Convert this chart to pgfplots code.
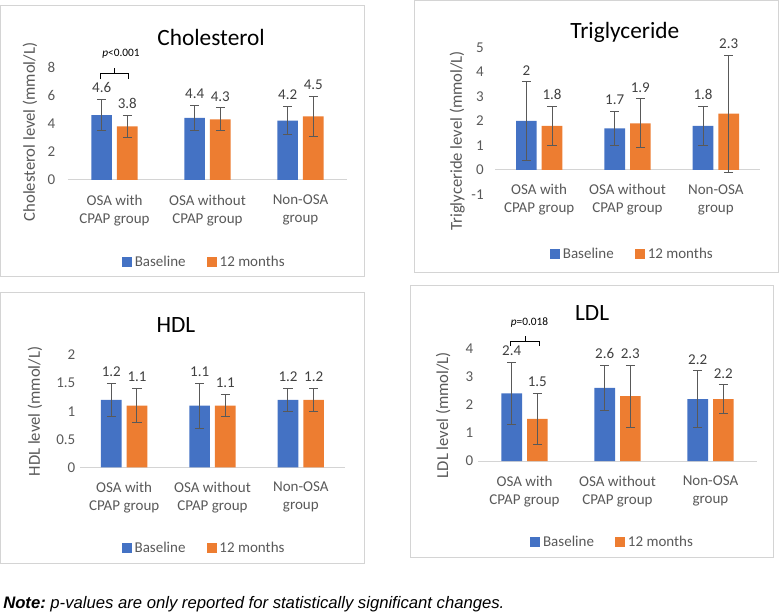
\documentclass[border=0pt]{standalone}
\usepackage{fontspec}
\setmainfont{Carlito}
\newfontfamily\arial{Liberation Sans}
\usepackage{pgfplots}
\pgfplotsset{compat=1.18}
\definecolor{cblue}{HTML}{4472C4}
\definecolor{corange}{HTML}{ED7D31}
\definecolor{tgray}{HTML}{595959}
\definecolor{lgray}{HTML}{D4D4D4}
\definecolor{dlab}{HTML}{404040}
\newcommand{\fnt}{\fontsize{11.25}{13.5}\selectfont}
\pgfplotsset{
  panel/.style={
    scale only axis, anchor=south west,
    ybar=3.75pt, bar width=15.5pt,
    xmin=-0.5, xmax=2.5, xtick={0,1,2},
    xticklabels={{OSA with\\CPAP group},{OSA without\\CPAP group},{Non-OSA\\group}},
    x tick label style={align=center, font=\fnt, text=tgray, yshift=-7.5pt},
    y tick label style={font=\fnt, text=tgray},
    axis y line=left, axis x line=middle,
    y axis line style={draw=none},
    x axis line style={draw=lgray, line width=0.75pt, -},
    every inner x axis line/.append style={-},
    major tick length=0pt,
    /pgf/number format/assume math mode=true,
    clip=false,
    legend columns=2,
    legend style={draw=none, fill=none, font=\fnt, text=tgray, anchor=center,
      /tikz/every even column/.append style={column sep=14pt}},
    legend image code/.code={\fill[##1] (0pt,-3.6pt) rectangle (7.5pt,3.6pt);},
    nodes near coords,
    every node near coord/.append style={font=\fnt, text=dlab, shift={(axis direction cs:0,\myerr)}, yshift=1.5pt},
    visualization depends on={\thisrow{e} \as \myerr},
  },
  bbar/.style={fill=cblue, draw=none,
    error bars/.cd, y dir=both, y explicit,
    error bar style={tgray, line width=0.75pt},
    error mark options={rotate=90, tgray, mark size=3.4pt, line width=0.75pt}},
  obar/.style={fill=corange, draw=none,
    error bars/.cd, y dir=both, y explicit,
    error bar style={tgray, line width=0.75pt},
    error mark options={rotate=90, tgray, mark size=3.4pt, line width=0.75pt}},
}
\begin{document}
\begin{tikzpicture}
\useasboundingbox (0pt,0pt) rectangle (584.25pt,-459.75pt);
% panel frames
\draw[lgray, line width=0.75pt] (0.4pt,-4.5pt) rectangle (273pt,-207.75pt);
\draw[lgray, line width=0.75pt] (310.5pt,-0.75pt) rectangle (583.5pt,-204.75pt);
\draw[lgray, line width=0.75pt] (0.4pt,-219.75pt) rectangle (273pt,-422.25pt);
\draw[lgray, line width=0.75pt] (307.5pt,-214.5pt) rectangle (579.75pt,-417.75pt);

% Cholesterol
\begin{axis}[panel, at={(51pt,-135pt)}, width=209.25pt, height=84.75pt,
  ymin=0, ymax=8, ytick={0,2,4,6,8},
  y tick label style={xshift=-6pt},
  legend style={at={(0.49,-0.726)}}]
\addplot[bbar] table[x=x,y=y,y error=e] {
x y e
0 4.6 1.1
1 4.4 0.9
2 4.2 1.0
};
\addplot[obar] table[x=x,y=y,y error=e] {
x y e
0 3.8 0.8
1 4.3 0.8
2 4.5 1.4
};
\legend{Baseline, 12 months}
\node[font=\fontsize{17.5}{20}\selectfont] at (axis description cs:0.513,1.265) {Cholesterol};
\node[rotate=90, font=\fontsize{12.5}{15}\selectfont, text=tgray] at (axis description cs:-0.136,0.425) {Cholesterol level (mmol/L)};
\draw[black, line width=0.6pt] (axis cs:-0.15,7.15) -- (axis cs:-0.15,7.57) -- (axis cs:0.15,7.57) -- (axis cs:0.15,7.15);
\draw[black, line width=0.6pt] (axis cs:0,7.57) -- (axis cs:0,7.93);
\node[font=\fontsize{8.5}{10}\selectfont] at (axis cs:0.07,8.92) {\itshape p\upshape<0.001};
\end{axis}

% Triglyceride
\begin{axis}[panel, at={(371.25pt,-145.7pt)}, width=198.75pt, height=109.95pt,
  ymin=-1, ymax=5, ytick={-1,0,1,2,3,4,5},
  y tick label style={xshift=-5pt},
  legend style={at={(0.52,-0.407)}}]
\addplot[bbar] table[x=x,y=y,y error=e] {
x y e
0 2 1.6
1 1.7 0.7
2 1.8 0.8
};
\addplot[obar] table[x=x,y=y,y error=e] {
x y e
0 1.8 0.8
1 1.9 1.0
2 2.3 2.4
};
\legend{Baseline, 12 months}
\node[font=\fontsize{17.5}{20}\selectfont] at (axis description cs:0.49,1.107) {Triglyceride};
\node[rotate=90, font=\fontsize{12.5}{15}\selectfont, text=tgray] at (axis description cs:-0.143,0.364) {Triglyceride level (mmol/L)};
\end{axis}

% HDL
\begin{axis}[panel, at={(60pt,-350.5pt)}, width=198.75pt, height=84.2pt,
  ymin=0, ymax=2, ytick={0,0.5,1,1.5,2},
  legend style={at={(0.47,-0.72)}}]
\addplot[bbar] table[x=x,y=y,y error=e] {
x y e
0 1.2 0.3
1 1.1 0.4
2 1.2 0.2
};
\addplot[obar] table[x=x,y=y,y error=e] {
x y e
0 1.1 0.3
1 1.1 0.2
2 1.2 0.2
};
\legend{Baseline, 12 months}
\node[font=\fontsize{17.5}{20}\selectfont] at (axis description cs:0.362,1.267) {HDL};
\node[rotate=90, font=\fontsize{12.5}{15}\selectfont, text=tgray] at (axis description cs:-0.17,0.497) {HDL level (mmol/L)};
\end{axis}

% LDL
\begin{axis}[panel, at={(358.5pt,-345.75pt)}, width=209.25pt, height=84.5pt,
  ymin=0, ymax=4, ytick={0,1,2,3,4},
  legend style={at={(0.484,-0.72)}}]
\addplot[bbar] table[x=x,y=y,y error=e] {
x y e
0 2.4 1.1
1 2.6 0.8
2 2.2 1.0
};
\addplot[obar] table[x=x,y=y,y error=e] {
x y e
0 1.5 0.9
1 2.3 1.1
2 2.2 0.5
};
\legend{Baseline, 12 months}
\node[font=\fontsize{17.5}{20}\selectfont] at (axis description cs:0.409,1.313) {LDL};
\node[rotate=90, font=\fontsize{12.5}{15}\selectfont, text=tgray] at (axis description cs:-0.125,0.408) {LDL level (mmol/L)};
\draw[black, line width=0.6pt] (axis cs:-0.148,4.08) -- (axis cs:-0.148,4.26) -- (axis cs:0.156,4.26) -- (axis cs:0.156,4.08);
\draw[black, line width=0.6pt] (axis cs:0.005,4.26) -- (axis cs:0.005,4.44);
\node[font=\fontsize{8.5}{10}\selectfont] at (axis cs:0.054,4.93) {\itshape p\upshape=0.018};
\end{axis}

\node[anchor=base west, inner sep=0pt] at (2.25pt,-456pt) {\arial\fontsize{12.5}{15}\selectfont\bfseries\itshape Note:\mdseries\ p-values are only reported for statistically significant changes.};
\end{tikzpicture}
\end{document}
